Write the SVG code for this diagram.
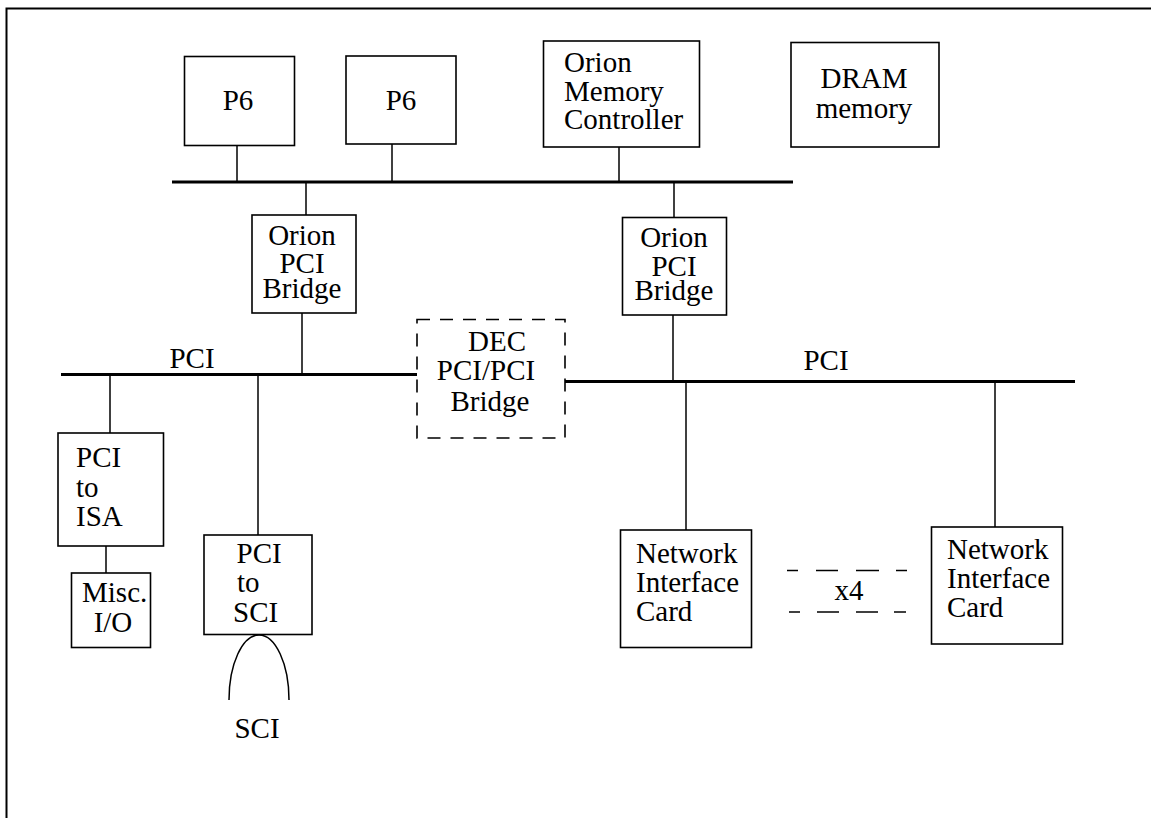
<svg xmlns="http://www.w3.org/2000/svg" width="1151" height="818" viewBox="0 0 1151 818">
<style>
.box{fill:#fff;stroke:#000;stroke-width:1.6}
.dash{fill:none;stroke:#000;stroke-width:1.6;stroke-dasharray:13 10}
.bus{stroke:#000;stroke-width:3;fill:none}
.ln{stroke:#000;stroke-width:1.5;fill:none}
text{font-family:"Liberation Serif","Times New Roman",serif;font-size:29px;fill:#000}
.c{text-anchor:middle}
</style>
<rect width="1151" height="818" fill="#fff"/>
<path d="M6.5,818 V8.5 H1151" fill="none" stroke="#000" stroke-width="2"/>
<g id="connectors">
<line class="bus" x1="172" y1="182" x2="793" y2="182"/>
<line class="bus" x1="61" y1="374.5" x2="417" y2="374.5"/>
<line class="bus" x1="565" y1="381.5" x2="1075" y2="381.5"/>
<line class="ln" x1="237" y1="145" x2="237" y2="182"/>
<line class="ln" x1="392" y1="144" x2="392" y2="182"/>
<line class="ln" x1="619" y1="147" x2="619" y2="182"/>
<line class="ln" x1="306" y1="182" x2="306" y2="215"/>
<line class="ln" x1="674" y1="182" x2="674" y2="217"/>
<line class="ln" x1="302" y1="313" x2="302" y2="374"/>
<line class="ln" x1="673" y1="315" x2="673" y2="381"/>
<line class="ln" x1="110" y1="374" x2="110" y2="433"/>
<line class="ln" x1="258" y1="374" x2="258" y2="535"/>
<line class="ln" x1="106" y1="546" x2="106" y2="573"/>
<line class="ln" x1="686" y1="382" x2="686" y2="530"/>
<line class="ln" x1="995" y1="382" x2="995" y2="527"/>
<path class="ln" d="M229,700 A30,65 0 0 1 289,700"/>
<g class="ln">
<line x1="787" y1="570.5" x2="798" y2="570.5"/>
<line x1="816" y1="570.5" x2="838" y2="570.5"/>
<line x1="856" y1="570.5" x2="879" y2="570.5"/>
<line x1="896" y1="570.5" x2="907" y2="570.5"/>
<line x1="789" y1="612" x2="800" y2="612"/>
<line x1="817" y1="612" x2="839" y2="612"/>
<line x1="856" y1="612" x2="878" y2="612"/>
<line x1="894" y1="612" x2="906" y2="612"/>
</g>
</g>
<g id="p6a"><rect class="box" x="184.5" y="56.5" width="110" height="89"/><text class="c" x="238" y="110">P6</text></g>
<g id="p6b"><rect class="box" x="346" y="56" width="110" height="88"/><text class="c" x="401" y="110">P6</text></g>
<g id="omc"><rect class="box" x="543.5" y="41" width="156" height="106"/>
<text x="564" y="72">Orion</text><text x="564" y="101">Memory</text><text x="564" y="129">Controller</text></g>
<g id="dram"><rect class="box" x="791" y="42.5" width="148" height="104.5"/>
<text class="c" x="864" y="88">DRAM</text><text class="c" x="864" y="118">memory</text></g>
<g id="opb1"><rect class="box" x="252" y="215" width="104" height="98"/>
<text class="c" x="302" y="245">Orion</text><text class="c" x="302" y="273">PCI</text><text class="c" x="302" y="298">Bridge</text></g>
<g id="opb2"><rect class="box" x="622.5" y="217.5" width="104" height="97.5"/>
<text class="c" x="674" y="247">Orion</text><text class="c" x="674" y="276">PCI</text><text class="c" x="674" y="300">Bridge</text></g>
<g id="dec"><rect class="dash" x="417" y="319.5" width="148" height="118.5"/>
<text class="c" x="497" y="351">DEC</text><text class="c" x="486" y="380">PCI/PCI</text><text class="c" x="490" y="411">Bridge</text></g>
<g id="pcilabels"><text class="c" x="192" y="368">PCI</text><text class="c" x="826" y="370">PCI</text></g>
<g id="isa"><rect class="box" x="58" y="433" width="105.5" height="113"/>
<text x="76" y="467">PCI</text><text x="76" y="497">to</text><text x="76" y="526">ISA</text></g>
<g id="misc"><rect class="box" x="71.5" y="573" width="79" height="74.5"/>
<text x="82" y="602">Misc.</text><text class="c" x="113" y="632">I/O</text></g>
<g id="sci"><rect class="box" x="204" y="535" width="108" height="99.5"/>
<text x="236.5" y="563">PCI</text><text x="237" y="592">to</text><text x="233" y="621.5">SCI</text></g>
<g id="scilabel"><text class="c" x="257" y="738">SCI</text></g>
<g id="nic1"><rect class="box" x="620.5" y="530" width="131" height="117.5"/>
<text x="636" y="562.5">Network</text><text x="636" y="592">Interface</text><text x="636" y="621">Card</text></g>
<g id="nic2"><rect class="box" x="931.5" y="527" width="131" height="117"/>
<text x="947" y="559">Network</text><text x="947" y="588">Interface</text><text x="947" y="617">Card</text></g>
<g id="x4"><text class="c" x="849" y="600">x4</text></g>
</svg>
